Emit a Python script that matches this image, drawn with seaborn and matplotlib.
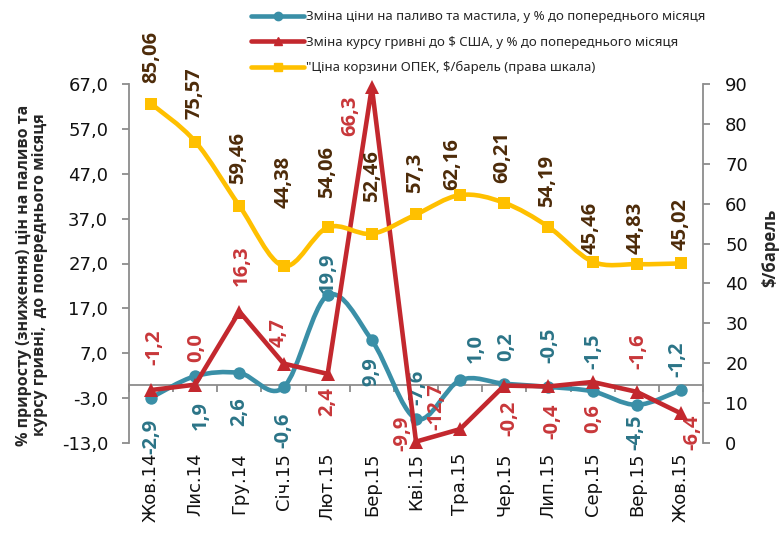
import matplotlib
matplotlib.use("Agg")
import numpy as np
import pandas as pd
import matplotlib.pyplot as plt
import seaborn as sns
from matplotlib.path import Path
from matplotlib.patches import PathPatch
from matplotlib.lines import Line2D

# data
months = ["Жов.14", "Лис.14", "Гру.14", "Січ.15", "Лют.15", "Бер.15", "Кві.15",
          "Тра.15", "Чер.15", "Лип.15", "Сер.15", "Вер.15", "Жов.15"]
fuel = [-2.9, 1.9, 2.6, -0.6, 19.9, 9.9, -7.6, 1.0, 0.2, -0.5, -1.5, -4.5, -1.2]
uah = [-1.2, 0.0, 16.3, 4.7, 2.4, 66.3, -12.7, -9.9, -0.2, -0.4, 0.6, -1.6, -6.4]
opec = [85.06, 75.57, 59.46, 44.38, 54.06, 52.46, 57.3, 62.16, 60.21, 54.19,
        45.46, 44.83, 45.02]

fuel_name = "Зміна ціни на паливо та мастила, у % до попереднього місяця"
uah_name = "Зміна курсу гривні до $ США, у % до попереднього місяця"
opec_name = "\"Ціна корзини ОПЕК, $/барель (права шкала)"

# data label offsets (pixels) from each point
fuel_off = [(0, -39), (6, -39), (0, -39), (0, -43), (0, 23), (0, -31), (1, 31),
            (16, 32), (2, 37), (1, 42), (1, 40), (-1, -27), (-4, 31)]
uah_off = [(3, 43), (1, 37), (2, 46), (-5, 31), (0, -28), (-22, -29), (20, 35),
           (-58, -4), (5, -33), (4, -35), (1, -37), (2, 41), (11, -19)]
opec_off = [(0, 47), (-1, 48), (-1, 48), (0, 84), (-1, 55), (0, 58), (-1, 42),
            (-8, 31), (-2, 46), (-1, 46), (-2, 34), (-1, 36), (0, 39)]

BLUE, BLUE_TXT = "#3a8fa7", "#2b7487"
RED, RED_TXT = "#c3282e", "#c8373a"
GOLD, GOLD_TXT = "#ffc000", "#4d2b09"
GREY = "#8c8c8c"

sns.set_style("white")
plt.rcParams["font.family"] = ["DejaVu Sans"]

df = pd.DataFrame({"x": np.arange(len(months)), "month": months,
                   "fuel": fuel, "uah": uah, "opec": opec})


def smooth_path(x, y):
    # excel-like smoothed line: bezier segments through the data points
    x = np.asarray(x, float)
    y = np.asarray(y, float)
    n = len(x)
    verts = [(x[0], y[0])]
    codes = [Path.MOVETO]
    for i in range(n - 1):
        i0 = max(i - 1, 0)
        i3 = min(i + 2, n - 1)
        c1 = (x[i] + (x[i + 1] - x[i0]) / 6, y[i] + (y[i + 1] - y[i0]) / 6)
        c2 = (x[i + 1] - (x[i3] - x[i]) / 6, y[i + 1] - (y[i3] - y[i]) / 6)
        verts += [c1, c2, (x[i + 1], y[i + 1])]
        codes += [Path.CURVE4] * 3
    return Path(verts, codes)


fig = plt.figure(figsize=(7.8, 5.35), dpi=100)
ax = fig.add_axes([129 / 780, 1 - 443 / 535, 574 / 780, 359 / 535])
ax2 = ax.twinx()

# left axis series
ax.add_patch(PathPatch(smooth_path(df.x, df.fuel), fill=False, color=BLUE,
                       lw=3.3, capstyle="round", joinstyle="round", zorder=3))
sns.scatterplot(data=df, x="x", y="fuel", ax=ax, color=BLUE, marker="o", s=80,
                linewidth=0, zorder=4, clip_on=False, legend=False)
sns.lineplot(data=df, x="x", y="uah", ax=ax, color=RED, lw=3.3, marker="^",
             markersize=10, markeredgewidth=0, zorder=5, clip_on=False,
             legend=False)

# right axis series
ax2.add_patch(PathPatch(smooth_path(df.x, df.opec), fill=False, color=GOLD,
                        lw=3.3, capstyle="round", joinstyle="round", zorder=3))
sns.scatterplot(data=df, x="x", y="opec", ax=ax2, color=GOLD, marker="s", s=70,
                linewidth=0, zorder=4, clip_on=False, legend=False)

lab_font = dict(family="Open Sans", fontsize=14.5, fontweight="bold",
                rotation=90, ha="center", va="center", annotation_clip=False)
for i in range(len(months)):
    ax.annotate(f"{fuel[i]:.1f}".replace(".", ","), (i, fuel[i]),
                xytext=fuel_off[i], textcoords="offset pixels",
                color=BLUE_TXT, **lab_font)
    ax.annotate(f"{uah[i]:.1f}".replace(".", ","), (i, uah[i]),
                xytext=uah_off[i], textcoords="offset pixels",
                color=RED_TXT, **lab_font)
    ax2.annotate(str(opec[i]).replace(".", ","), (i, opec[i]),
                 xytext=opec_off[i], textcoords="offset pixels",
                 color=GOLD_TXT, **lab_font)

# axes
ax.set_xlim(-0.5, len(months) - 0.5)
ax.set_ylim(-13, 67)
ax2.set_ylim(0, 90)
left_ticks = np.arange(-13, 68, 10)
ax.set_yticks(left_ticks)
ax.set_yticklabels([f"{t:.1f}".replace(".", ",") for t in left_ticks])
ax2.set_yticks(np.arange(0, 91, 10))
ax.set_xticks(df.x)
ax.set_xticklabels(months, rotation=90)
ax.set_xlabel("")
ax.set_ylabel("")
ax2.set_ylabel("")

for s in ["top", "right", "bottom"]:
    ax.spines[s].set_visible(False)
for s in ["top", "left", "bottom"]:
    ax2.spines[s].set_visible(False)
ax.spines["left"].set_color(GREY)
ax.spines["left"].set_linewidth(1.3)
ax2.spines["right"].set_color(GREY)
ax2.spines["right"].set_linewidth(1.3)

ax.tick_params(axis="y", length=5, width=1.3, color=GREY, pad=10,
               labelsize=13, labelcolor="#111111", left=True)
ax2.tick_params(axis="y", length=5, width=1.3, color=GREY, pad=11,
                labelsize=13, labelcolor="#111111", right=True)
ax.tick_params(axis="x", length=0, pad=7, labelsize=13, labelcolor="#111111")

# horizontal axis line at zero with category boundary ticks
zero_ax = ax.secondary_xaxis(13 / 80)
zero_ax.set_xticks(np.arange(-0.5, len(months), 1))
zero_ax.tick_params(axis="x", length=5, width=1.3, color=GREY,
                    labelbottom=False, direction="out")
zero_ax.spines["bottom"].set_color(GREY)
zero_ax.spines["bottom"].set_linewidth(1.3)

fig.text(32 / 780, 1 - 275 / 535,
         "% приросту (зниження) цін на паливо та\nкурсу гривні,  до попереднього місяця",
         rotation=90, ha="center", va="center", multialignment="center",
         family="Open Sans", fontsize=11.5, fontweight="bold", linespacing=1.05)
fig.text(770 / 780, 1 - 248 / 535, "$/барель", rotation=90, ha="center",
         va="center", family="Open Sans", fontsize=12, fontweight="bold")

handles = [
    Line2D([], [], color=BLUE, lw=3.3, marker="o", markersize=6),
    Line2D([], [], color=RED, lw=3.3, marker="^", markersize=6),
    Line2D([], [], color=GOLD, lw=3.3, marker="s", markersize=6),
]
fig.legend(handles, [fuel_name, uah_name, opec_name], loc="upper left",
           bbox_to_anchor=(246 / 780, 1 - 5 / 535), frameon=False,
           prop={"family": "Noto Sans", "size": 9.5}, handlelength=4.0,
           handletextpad=0.15, labelspacing=0.95, borderaxespad=0)

fig.savefig("out.png", dpi=100)
